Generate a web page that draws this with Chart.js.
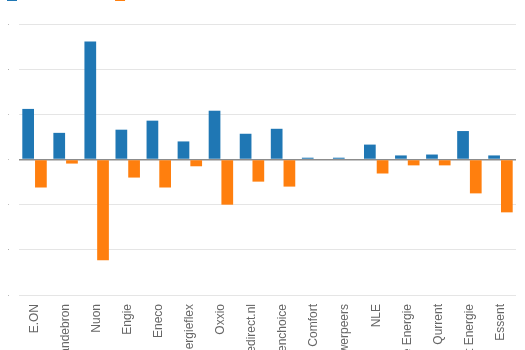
<!DOCTYPE html>
<html>
<head>
<meta charset="utf-8">
<script src="https://cdn.jsdelivr.net/npm/chart.js@4.4.0/dist/chart.umd.min.js"></script>
<style>
  html, body { margin: 0; padding: 0; width: 525px; height: 350px; overflow: hidden; background: #fff; }
  #wrap { position: absolute; left: -3px; top: -20px; width: 528px; height: 470px; }
</style>
</head>
<body>
<div id="wrap"><canvas id="c" width="528" height="470"></canvas></div>
<script>
const categories = ["E.ON","Vandebron","Nuon","Engie","Eneco","Energieflex","Oxxio","Energiedirect.nl","Greenchoice","Comfort","Powerpeers","NLE","Pure Energie","Qurrent","Budget Energie","Essent"];
const gained = [1.12, 0.59, 2.61, 0.66, 0.86, 0.40, 1.08, 0.57, 0.68, 0.04, 0.04, 0.33, 0.09, 0.11, 0.63, 0.09];
const lost = [-0.62, -0.09, -2.23, -0.40, -0.62, -0.15, -1.00, -0.49, -0.60, 0, 0, -0.31, -0.13, -0.13, -0.75, -1.17];
const seriesNames = ["Nieuwe klanten", "Verloren klanten"];
const yMin = -3, yMax = 3, yStep = 1;

const FONT = '"Liberation Sans", Arial, Helvetica, sans-serif';
const legendMargin = {
  id: 'legendMargin',
  beforeInit(chart) {
    const fit = chart.legend.fit;
    chart.legend.fit = function () { fit.call(this); this.height += 12; };
  }
};
new Chart(document.getElementById('c'), {
  type: 'bar',
  plugins: [legendMargin],
  data: {
    labels: categories,
    datasets: [
      { label: seriesNames[0], data: gained, backgroundColor: '#1f77b4', borderWidth: 0, categoryPercentage: 0.82, barPercentage: 0.92 },
      { label: seriesNames[1], data: lost, backgroundColor: '#ff7f0e', borderWidth: 0, categoryPercentage: 0.82, barPercentage: 0.92 }
    ]
  },
  options: {
    responsive: false,
    animation: false,
    layout: { padding: { left: 0, right: 9, top: 0, bottom: 0 } },
    plugins: {
      legend: {
        display: true,
        align: 'start',
        labels: { boxWidth: 10, boxHeight: 10, font: { family: FONT, size: 12 }, color: '#666' }
      },
      tooltip: { enabled: false }
    },
    scales: {
      x: {
        grid: { display: false },
        border: { display: false },
        ticks: { minRotation: 90, maxRotation: 90, autoSkip: false, color: '#666', font: { family: FONT, size: 12 }, padding: 1 },
        afterFit: (s) => { s.height = 155; }
      },
      y: {
        min: yMin, max: yMax,
        border: { display: false },
        grid: {
          drawTicks: false,
          color: (ctx) => (ctx.tick && ctx.tick.value === 0) ? 'rgba(0,0,0,0.45)' : 'rgba(0,0,0,0.1)',
          lineWidth: (ctx) => (ctx.tick && ctx.tick.value === 0) ? 1.5 : 1
        },
        ticks: { stepSize: yStep, color: '#666', font: { family: FONT, size: 2 }, padding: 10 },
        afterFit: (s) => { s.width = 22; }
      }
    }
  }
});
</script>
</body>
</html>
